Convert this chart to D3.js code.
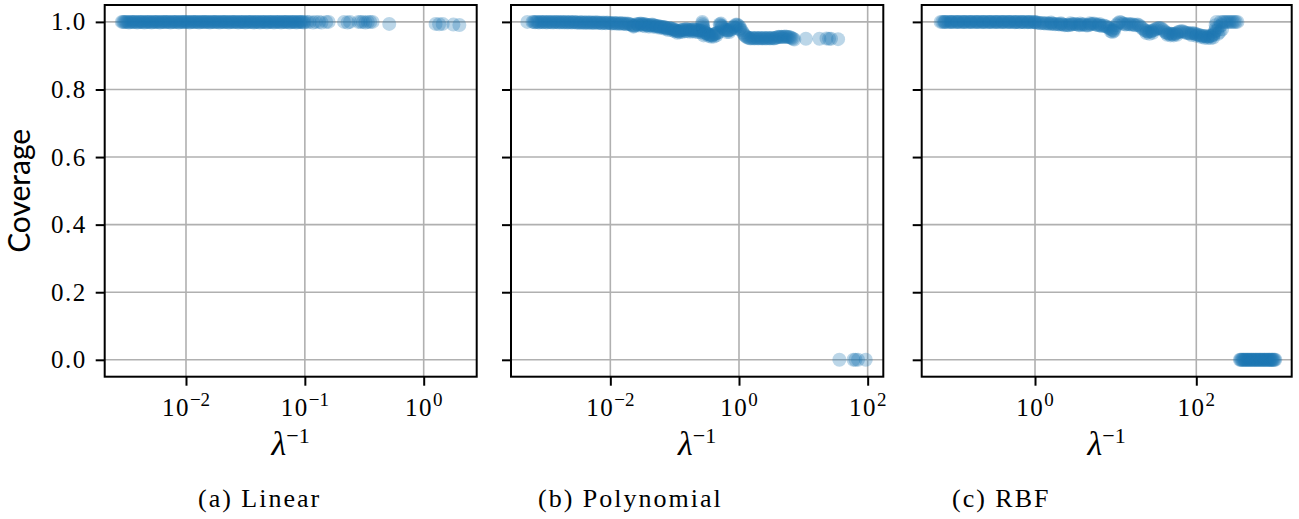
<!DOCTYPE html>
<html><head><meta charset="utf-8">
<script src="https://cdn.jsdelivr.net/npm/d3@7/dist/d3.min.js"></script>
<style>body{margin:0;background:#fff}</style>
</head><body>
<svg id="c" width="1299" height="519"></svg>
<script>
// ---- data: [log10(lambda^-1), coverage] ----
const yTicks = [0, 0.2, 0.4, 0.6, 0.8, 1.0];
const linearTicks = [1e-2, 1e-1, 1e0];
const polyTicks = [1e-2, 1e0, 1e2];
const rbfTicks = [1e0, 1e2];
const captions = ["(a) Linear", "(b) Polynomial", "(c) RBF"];

const linearPts = [
[-2.54,1],[-2.53,1],[-2.52,1],[-2.51,1],[-2.50,1],[-2.49,1],[-2.48,.998],[-2.47,1],[-2.46,1],[-2.45,1],
[-2.44,1],[-2.43,1],[-2.42,1],[-2.41,.998],[-2.40,1],[-2.39,1],[-2.38,1],[-2.37,1],[-2.36,1],[-2.35,.998],
[-2.34,1],[-2.33,1],[-2.32,1],[-2.31,1],[-2.30,1],[-2.29,.998],[-2.28,1],[-2.27,1],[-2.26,1],[-2.25,1],
[-2.24,1],[-2.23,1],[-2.22,.998],[-2.21,1],[-2.20,1],[-2.19,1],[-2.18,1],[-2.17,1],[-2.16,1],[-2.15,1],
[-2.14,1],[-2.13,.998],[-2.12,1],[-2.11,1],[-2.10,1],[-2.09,1],[-2.08,1],[-2.07,1],[-2.06,.998],[-2.05,1],
[-2.04,1],[-2.03,1],[-2.02,1],[-2.01,1],[-2.00,1],[-1.99,1],[-1.98,1],[-1.97,.998],[-1.96,1],[-1.95,1],
[-1.94,1],[-1.93,1],[-1.92,1],[-1.91,1],[-1.90,1],[-1.89,.998],[-1.88,1],[-1.87,1],[-1.86,1],[-1.85,1],
[-1.84,1],[-1.83,1],[-1.82,1],[-1.81,1],[-1.80,.998],[-1.79,1],[-1.78,1],[-1.77,1],[-1.76,1],[-1.75,1],
[-1.74,1],[-1.73,1],[-1.72,.998],[-1.71,1],[-1.70,1],[-1.69,1],[-1.68,1],[-1.67,1],[-1.66,1],[-1.65,1],
[-1.64,.998],[-1.63,1],[-1.62,1],[-1.61,1],[-1.60,1],[-1.59,1],[-1.58,1],[-1.57,1],[-1.56,.998],[-1.55,1],
[-1.54,1],[-1.53,1],[-1.52,1],[-1.51,1],[-1.50,.998],[-1.49,1],[-1.48,1],[-1.47,1],[-1.46,1],[-1.45,1],
[-1.44,1],[-1.43,.998],[-1.42,1],[-1.41,1],[-1.40,1],[-1.39,1],[-1.38,.998],[-1.37,1],[-1.36,1],[-1.35,1],
[-1.34,1],[-1.33,1],[-1.32,.998],[-1.31,1],[-1.30,1],[-1.29,1],[-1.28,1],[-1.27,1],[-1.26,.998],[-1.25,1],
[-1.24,1],[-1.23,1],[-1.22,1],[-1.21,1],[-1.20,.998],[-1.19,1],[-1.18,1],[-1.17,1],[-1.16,1],[-1.15,1],
[-1.14,1],[-1.13,.998],[-1.12,1],[-1.11,1],[-1.10,1],[-1.09,1],[-1.08,1],[-1.07,.998],[-1.06,1],[-1.05,1],
[-1.04,1],[-1.03,1],[-1.02,1],[-1.01,.998],[-1.00,1],
[-0.98,1],[-0.96,1],[-0.93,.998],[-0.91,1],[-0.88,1],[-0.86,.998],[-0.82,1],[-0.80,1],[-0.67,1],[-0.64,.998],
[-0.62,1],[-0.55,1],[-0.53,1],[-0.51,1],[-0.49,.998],[-0.47,1],[-0.45,1],[-0.43,1],
[-0.29,.994],[0.10,.994],[0.13,.993],[0.16,.994],[0.25,.992],[0.30,.991]
];

const polyPts = [
[-3.29,1],
[-3.21,1],[-3.19,1],[-3.17,.999],[-3.15,1],[-3.13,1],[-3.11,.998],[-3.09,1],[-3.07,1],[-3.05,.999],[-3.03,1],
[-3.01,1],[-2.99,.998],[-2.97,1],[-2.95,1],[-2.93,.999],[-2.91,1],[-2.89,.998],[-2.87,1],[-2.85,1],[-2.83,.999],
[-2.81,1],[-2.79,.998],[-2.77,1],[-2.75,.999],[-2.73,1],[-2.71,.998],[-2.69,1],[-2.67,.999],[-2.65,.998],[-2.63,1],
[-2.61,.999],[-2.59,.998],[-2.57,1],[-2.55,.999],[-2.53,.998],[-2.51,.999],[-2.49,.997],[-2.47,.999],[-2.45,.998],[-2.43,.999],
[-2.41,.997],[-2.39,.998],[-2.37,.999],[-2.35,.997],[-2.33,.998],[-2.31,.999],[-2.29,.997],[-2.27,.998],[-2.25,.997],[-2.23,.999],
[-2.21,.998],[-2.19,.997],[-2.17,.998],[-2.15,.997],[-2.13,.996],[-2.11,.998],[-2.09,.997],[-2.07,.996],[-2.05,.998],[-2.03,.997],
[-2.01,.997],[-1.99,.996],[-1.97,.995],[-1.95,.997],[-1.93,.996],[-1.91,.995],[-1.89,.997],[-1.87,.994],[-1.85,.996],[-1.83,.995],
[-1.81,.996],[-1.79,.994],[-1.77,.995],[-1.75,.993],[-1.73,.995],[-1.71,.994],[-1.69,.993],[-1.67,.991],[-1.65,.99],[-1.63,.988],
[-1.61,.99],[-1.59,.994],[-1.57,.993],[-1.55,.994],[-1.53,.995],[-1.51,.994],[-1.49,.993],[-1.47,.994],[-1.45,.992],[-1.43,.991],
[-1.41,.99],[-1.39,.99],[-1.37,.991],[-1.35,.992],[-1.33,.99],[-1.31,.989],[-1.29,.988],[-1.27,.988],[-1.25,.987],[-1.23,.986],
[-1.21,.986],[-1.19,.985],[-1.17,.985],[-1.15,.984],[-1.13,.981],[-1.11,.98],[-1.09,.982],[-1.07,.981],[-1.05,.98],[-1.03,.979],
[-1.01,.978],[-0.99,.976],[-0.97,.974],[-0.95,.972],[-0.93,.973],[-0.91,.975],[-0.89,.976],[-0.87,.977],[-0.85,.977],[-0.83,.978],
[-0.81,.978],[-0.79,.977],[-0.77,.977],[-0.75,.976],[-0.73,.977],[-0.71,.978],[-0.69,.977],[-0.67,.977],[-0.65,.976],[-0.63,.975],
[-0.61,.975],[-0.59,.974],
[-1.64,.986],[-1.56,.989],[-1.50,.989],[-1.46,.987],[-1.40,.986],[-1.34,.986],[-1.28,.984],[-1.22,.982],[-1.16,.98],[-1.10,.976],
[-1.04,.975],[-1.00,.972],[-0.96,.968],[-0.92,.969],[-0.88,.971],[-0.84,.972],[-0.80,.972],[-0.76,.971],[-0.72,.972],[-0.68,.971],
[-0.64,.97],[-0.60,.969],
[-0.57,1],[-0.57,.995],[-0.56,.99],[-0.56,.985],[-0.55,.98],[-0.55,.975],[-0.54,.97],[-0.54,.965],[-0.55,.96],
[-0.52,.968],[-0.50,.966],[-0.48,.964],[-0.46,.962],[-0.44,.961],[-0.42,.96],[-0.40,.962],[-0.38,.964],[-0.36,.966],[-0.34,.967],[-0.32,.969],
[-0.47,.958],[-0.43,.956],[-0.39,.957],[-0.35,.96],
[-0.30,.993],[-0.29,.99],[-0.28,.995],[-0.27,.988],[-0.26,.985],[-0.24,.98],
[-0.22,.977],[-0.20,.976],[-0.18,.975],[-0.16,.975],[-0.14,.976],[-0.12,.978],[-0.19,.97],[-0.15,.97],
[-0.10,.983],[-0.08,.986],[-0.06,.99],[-0.04,.992],[-0.02,.991],[0.00,.987],[0.02,.982],[-0.05,.982],[0.01,.978],
[0.04,.975],[0.06,.968],[0.08,.962],[0.10,.958],[0.12,.955],
[0.14,.953],[0.16,.952],[0.18,.951],[0.20,.952],[0.22,.952],[0.24,.951],[0.26,.952],[0.28,.952],[0.30,.951],[0.32,.952],
[0.34,.952],[0.36,.951],[0.38,.952],[0.40,.952],[0.42,.951],[0.44,.952],[0.46,.952],[0.48,.951],[0.50,.952],[0.52,.952],
[0.54,.951],[0.56,.952],[0.58,.953],[0.60,.955],[0.62,.956],[0.64,.955],[0.66,.956],[0.68,.955],[0.70,.956],[0.72,.957],
[0.74,.956],[0.76,.955],[0.78,.955],[0.80,.954],[0.82,.952],[0.84,.95],[0.86,.948],
[1.04,.95],[1.25,.95],[1.36,.951],[1.40,.95],[1.43,.95],[1.54,.949],
[1.56,0],[1.78,0],[1.81,0],[1.85,0],[1.97,0]
];

const rbfPts = [
[-1.17,1],[-1.15,1],[-1.13,1],[-1.11,1],[-1.09,1],[-1.07,1],[-1.05,1],[-1.03,1],[-1.01,1],[-0.99,1],
[-0.97,1],[-0.95,1],[-0.93,1],[-0.91,1],[-0.89,1],[-0.87,1],[-0.85,1],[-0.83,1],[-0.81,1],[-0.79,1],
[-0.77,1],[-0.75,1],[-0.73,1],[-0.71,1],[-0.69,1],[-0.67,1],[-0.65,1],[-0.63,1],[-0.61,1],[-0.59,1],
[-0.57,1],[-0.55,1],[-0.53,1],[-0.51,1],[-0.49,1],[-0.47,1],[-0.45,1],[-0.43,1],[-0.41,1],[-0.39,1],
[-0.37,1],[-0.35,1],[-0.33,1],[-0.31,1],[-0.29,1],[-0.27,1],[-0.25,.999],[-0.23,1],[-0.21,1],[-0.19,.999],
[-0.17,1],[-0.15,1],[-0.13,.999],[-0.11,1],[-0.09,.999],[-0.07,1],[-0.05,.999],[-0.03,1],[-0.01,.999],[0.01,.998],[0.03,.998],
[-1.12,1],[-1.04,1],[-0.96,1],[-0.88,1],[-0.80,1],[-0.72,1],[-0.64,1],[-0.56,1],[-0.48,1],[-0.40,1],[-0.32,1],[-0.24,1],[-0.16,1],[-0.08,1],[0.0,1],
[0.05,.997],[0.07,.996],[0.09,.997],[0.11,.996],[0.13,.995],[0.15,.996],[0.17,.995],[0.19,.994],[0.21,.995],[0.23,.994],
[0.25,.993],[0.27,.994],[0.29,.993],[0.31,.992],[0.33,.993],[0.35,.992],[0.37,.99],[0.39,.991],[0.41,.99],[0.43,.991],[0.45,.992],
[0.47,.993],[0.49,.994],[0.51,.993],[0.53,.992],[0.55,.99],[0.57,.991],[0.59,.993],[0.61,.992],[0.63,.99],[0.65,.989],
[0.67,.991],[0.69,.993],[0.71,.994],[0.73,.995],[0.75,.993],[0.77,.991],[0.79,.99],[0.81,.989],[0.83,.988],[0.85,.989],[0.87,.988],[0.89,.986],
[0.20,.998],[0.32,.996],[0.44,.996],[0.56,.995],[0.68,.996],[0.80,.994],
[0.91,.983],[0.93,.98],[0.95,.977],[0.97,.976],[0.99,.982],[1.01,.99],[1.03,.996],[1.05,1],[1.07,.998],[1.09,.995],
[0.94,.972],[0.96,.97],[0.98,.973],
[1.11,.993],[1.13,.992],[1.15,.994],[1.17,.993],[1.19,.992],[1.21,.993],[1.23,.991],[1.25,.99],[1.27,.992],[1.29,.99],
[1.31,.986],[1.33,.981],[1.35,.977],[1.37,.974],[1.39,.972],[1.41,.971],[1.43,.972],[1.45,.973],[1.47,.975],[1.49,.978],
[1.38,.967],[1.42,.965],[1.46,.968],
[1.51,.98],[1.53,.982],[1.55,.982],[1.57,.98],[1.59,.976],[1.61,.971],[1.63,.968],[1.65,.966],[1.67,.965],[1.69,.965],
[1.71,.964],[1.73,.965],[1.75,.966],[1.77,.969],[1.79,.971],[1.81,.972],[1.83,.972],[1.85,.97],[1.87,.968],[1.89,.967],
[1.64,.962],[1.68,.96],[1.72,.96],[1.76,.962],
[1.91,.966],[1.93,.966],[1.95,.967],[1.97,.966],[1.99,.965],[2.01,.963],[2.03,.961],[2.05,.96],[2.07,.959],[2.09,.958],
[2.11,.958],[2.13,.957],[2.15,.957],[2.17,.958],[2.19,.959],[2.21,.961],
[1.94,.961],[2.00,.959],[2.06,.955],[2.10,.953],[2.14,.952],[2.18,.952],[2.21,.954],
[2.22,.965],[2.23,.972],[2.24,.98],[2.24,.99],[2.25,1],[2.26,.975],[2.27,.965],[2.28,.985],[2.29,.97],[2.30,1],[2.31,.99],[2.32,.978],
[2.33,1],[2.35,1],[2.37,1],[2.39,1],[2.41,1],[2.43,1],[2.45,1],[2.47,1],[2.49,1],[2.51,1],
[2.54,0],[2.55,0],[2.56,0],[2.57,0],[2.58,0],[2.59,0],[2.60,0],[2.61,0],[2.62,0],[2.63,0],
[2.64,0],[2.65,0],[2.66,0],[2.67,0],[2.68,0],[2.69,0],[2.70,0],[2.71,0],[2.72,0],[2.73,0],
[2.74,0],[2.75,0],[2.76,0],[2.77,0],[2.78,0],[2.79,0],[2.80,0],[2.81,0],[2.82,0],[2.83,0],
[2.84,0],[2.85,0],[2.86,0],[2.87,0],[2.88,0],[2.89,0],[2.90,0],[2.91,0],[2.92,0],[2.93,0],
[2.94,0],[2.95,0],[2.96,0],[2.97,0],[2.98,0]
];

// ---- layout ----
const SERIF = '"Liberation Serif"';
const SANS = '"Lato"';
const TOP = 5, BOTTOM = 376.7;
const panels = [
  {pts: linearPts, ticks: linearTicks, left: 104.7, right: 476.7, dom: [-2.684, 0.446], capX: 198, cap: captions[0], ylabels: true},
  {pts: polyPts,   ticks: polyTicks,   left: 511,   right: 883.3, dom: [-3.544, 2.243], capX: 538, cap: captions[1], ylabels: false},
  {pts: rbfPts,    ticks: rbfTicks,    left: 921.7, right: 1291.7, dom: [-1.405, 3.183], capX: 952, cap: captions[2], ylabels: false}
];

const svg = d3.select("#c");
svg.append("rect").attr("width",1299).attr("height",519).attr("fill","#fff");
const y = d3.scaleLinear().domain([-0.05, 1.05]).range([BOTTOM, TOP]);

panels.forEach(p => {
  const x = d3.scaleLog().domain(p.dom.map(v => Math.pow(10, v))).range([p.left, p.right]);
  const g = svg.append("g");

  // grid
  g.append("g").selectAll("line").data(p.ticks).join("line")
    .attr("x1", d => x(d)).attr("x2", d => x(d)).attr("y1", TOP).attr("y2", BOTTOM)
    .attr("stroke", "#b0b0b0").attr("stroke-width", 1.6);
  g.append("g").selectAll("line").data(yTicks).join("line")
    .attr("x1", p.left).attr("x2", p.right).attr("y1", d => y(d)).attr("y2", d => y(d))
    .attr("stroke", "#b0b0b0").attr("stroke-width", 1.6);

  // points
  g.append("g").selectAll("circle").data(p.pts).join("circle")
    .attr("cx", d => x(Math.pow(10, d[0]))).attr("cy", d => y(d[1])).attr("r", 7)
    .attr("fill", "#1f77b4").attr("fill-opacity", 0.3);

  // frame
  g.append("rect").attr("x", p.left).attr("y", TOP)
    .attr("width", p.right - p.left).attr("height", BOTTOM - TOP)
    .attr("fill", "none").attr("stroke", "#000").attr("stroke-width", 2);

  // x axis ticks
  const ax = g.append("g").attr("transform", `translate(0,${BOTTOM})`)
    .call(d3.axisBottom(x).tickValues(p.ticks).tickSize(9).tickFormat(""));
  ax.select(".domain").remove();
  ax.selectAll(".tick line").attr("stroke", "#000").attr("stroke-width", 2);

  const lab = g.append("g").selectAll("text").data(p.ticks).join("text")
    .attr("x", d => x(d)).attr("y", 416).attr("text-anchor", "middle")
    .style("font-family", SERIF).style("font-size", "25px").attr("fill", "#000");
  lab.append("tspan").style("letter-spacing", "1.5px").text("10");
  lab.append("tspan").attr("dy", -10).style("font-size", "19px")
    .text(d => { const e = Math.round(Math.log10(d)); return e < 0 ? "\u2212" + (-e) : String(e); });

  // y axis ticks
  const ay = g.append("g").attr("transform", `translate(${p.left},0)`)
    .call(d3.axisLeft(y).tickValues(yTicks).tickSize(9).tickPadding(9)
      .tickFormat(p.ylabels ? d3.format(".1f") : ""));
  ay.attr("font-family", null);
  ay.select(".domain").remove();
  ay.selectAll(".tick line").attr("stroke", "#000").attr("stroke-width", 2);
  ay.selectAll(".tick text").style("font-family", SERIF).style("font-size", "25px")
    .style("letter-spacing", "1.5px").attr("fill", "#000");

  // x label
  const xl = g.append("text").attr("x", (p.left + p.right) / 2).attr("y", 455)
    .attr("text-anchor", "middle").style("font-family", SERIF).attr("fill", "#000");
  xl.append("tspan").style("font-size", "34px").style("font-style", "italic").text("\u03bb");
  xl.append("tspan").style("font-size", "22px").attr("dy", -12).text("\u22121");

  // caption
  g.append("text").attr("x", p.capX).attr("y", 507)
    .style("font-family", SERIF).style("font-size", "26px").style("letter-spacing", "2px")
    .attr("fill", "#000").text(p.cap);
});

// y label
svg.append("text").attr("transform", `translate(30,${(TOP + BOTTOM) / 2}) rotate(-90)`)
  .attr("text-anchor", "middle").style("font-family", SANS).style("font-size", "30px")
  .attr("fill", "#000").text("Coverage");
</script>
</body></html>
